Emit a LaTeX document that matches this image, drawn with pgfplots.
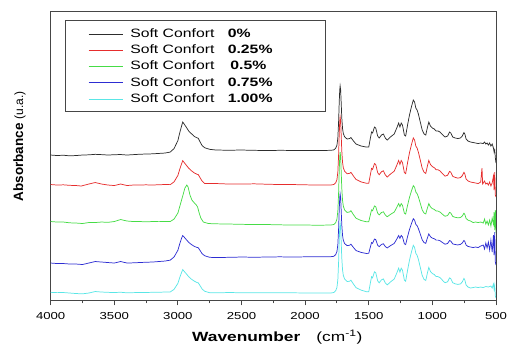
\documentclass[border=0pt]{standalone}
\usepackage{pgfplots}
\pgfplotsset{compat=1.18}
\usepackage{fontspec}
\setmainfont{Liberation Sans}[FakeStretch=1.3]
\newfontfamily\yfont{Liberation Sans}
\definecolor{cK}{RGB}{45,45,45}
\definecolor{cR}{RGB}{230,45,45}
\definecolor{cG}{RGB}{70,220,70}
\definecolor{cB}{RGB}{45,45,210}
\definecolor{cC}{RGB}{90,230,230}
\definecolor{frame}{RGB}{70,70,70}
\newcommand\legtxt[1]{\hspace*{5pt}Soft Confort\hspace{10pt}\textbf{#1}}
\begin{document}
\begin{tikzpicture}
\useasboundingbox (-38pt,-34pt) rectangle (342.25pt,225.55pt);
\begin{axis}[
  scale only axis, width=334pt, height=216.75pt,
  x dir=reverse, xmin=500, xmax=4000, ymin=0.3, ymax=289.3,
  xtick={500,1000,...,4000}, minor x tick num=1, ytick=\empty,
  tick align=outside, major tick length=3.5pt, minor tick length=2pt,
  xtick pos=bottom,
  axis line style={draw=frame, line width=0.7pt},
  xtick style={draw=frame, line width=0.7pt},
  /pgf/number format/assume math mode=true,
  /pgf/number format/set thousands separator={},
  xticklabel style={font=\fontsize{7.6}{9}\selectfont, yshift=-2pt},
  xlabel={\textbf{Wavenumber}\hspace{12pt}(cm\textsuperscript{-1})},
  xlabel style={font=\fontsize{10}{12}\selectfont, at={(axis description cs:0.509,-0.142)}, anchor=base},
  ylabel={\yfont\textbf{Absorbance} {\fontsize{9}{10}\selectfont (u.a.)}},
  ylabel style={font=\yfont\fontsize{10.1}{12}\selectfont, at={(axis description cs:-0.07,0.534)}, anchor=center},
  legend cell align=left,
  legend image code/.code={\draw[#1] (0pt,0pt) -- (26pt,0pt);},
  legend style={at={(axis description cs:0.0838,0.969)}, anchor=north west,
    draw=none, fill=none, inner xsep=0pt, inner ysep=5.2pt,
    row sep=3.2pt, font=\fontsize{9.1}{10}\selectfont,
    nodes={inner sep=0pt, text height=7pt, text depth=2pt}},
  every axis plot/.append style={line width=0.55pt},
]
\draw[draw=frame, line width=0.6pt] (axis description cs:0.032,0.969) rectangle (axis description cs:0.618,0.654);
% Soft Confort 0%
\addplot[cK] table {
4000 146.0
3950 145.5
3900 145.8
3850 145.2
3800 145.5
3750 146.0
3700 146.2
3650 146.7
3600 146.4
3550 146.0
3500 146.3
3450 146.5
3400 146.0
3350 146.4
3300 146.8
3250 147.0
3200 147.2
3150 147.6
3100 148.0
3060 149.0
3030 152.5
3000 160.5
2985 168.5
2970 175.5
2962 179.0
2950 176.8
2935 174.0
2915 170.0
2895 167.5
2870 164.5
2850 163.2
2840 162.8
2825 159.0
2810 155.5
2790 153.3
2750 151.7
2700 151.0
2600 150.8
2500 151.0
2400 150.7
2300 150.5
2200 150.7
2100 150.6
2000 150.5
1900 150.5
1800 150.7
1775 151.1
1760 152.8
1750 155.9
1743 163.0
1737 179.1
1732 199.2
1728 211.2
1725 215.2
1721 211.3
1717 199.3
1712 183.4
1706 172.5
1700 167.6
1690 164.2
1670 162.0
1650 162.5
1640 163.5
1620 160.0
1600 157.0
1560 155.0
1520 154.0
1500 154.0
1490 161.0
1478 169.0
1470 168.0
1455 174.0
1445 173.0
1430 165.0
1418 163.0
1400 166.0
1385 167.0
1370 163.0
1355 161.0
1330 164.0
1300 167.0
1280 173.0
1265 178.0
1255 174.0
1245 178.0
1235 176.0
1220 166.0
1210 165.0
1195 176.0
1180 186.0
1165 194.0
1150 201.0
1140 199.0
1130 193.0
1120 191.0
1110 187.0
1095 179.0
1080 171.0
1065 167.0
1052 166.0
1040 173.0
1028 179.0
1015 175.0
1000 173.0
985 172.0
970 170.0
955 170.0
940 169.0
925 167.0
910 165.0
900 164.0
880 165.0
865 169.0
855 168.0
840 164.0
820 163.0
800 162.5
780 163.0
765 165.0
752 168.5
745 167.0
735 162.0
720 160.0
700 159.0
680 158.5
660 158.0
640 157.5
620 158.0
600 157.5
590 159.0
580 157.0
570 158.0
560 156.0
550 158.0
540 155.0
530 157.0
520 153.0
515 149.0
510 151.0
505 143.0
500 138.0
};
\addlegendentry{\legtxt{0\%}}
% Soft Confort 0.25%
\addplot[cR] table {
4000 116.5
3950 116.0
3900 116.2
3850 115.7
3800 115.5
3760 115.0
3700 117.0
3650 118.5
3600 117.0
3550 116.0
3500 115.5
3450 117.0
3400 115.5
3350 116.0
3300 116.0
3250 116.2
3200 116.0
3150 116.3
3100 116.5
3060 116.4
3030 119.2
3000 125.6
2985 132.0
2970 137.6
2962 140.4
2950 138.4
2935 136.0
2915 132.8
2895 130.4
2870 128.0
2850 126.8
2840 126.4
2825 123.2
2810 120.0
2790 117.6
2750 117.5
2700 117.5
2600 117.0
2500 117.0
2400 117.2
2300 116.8
2200 116.5
2100 116.5
2000 116.2
1900 116.0
1800 116.0
1775 116.5
1760 118.2
1750 121.4
1743 128.9
1737 145.9
1732 167.1
1728 179.9
1725 184.1
1721 179.9
1717 167.2
1712 150.3
1706 138.7
1700 133.4
1690 129.8
1670 127.3
1650 127.7
1640 128.7
1620 124.9
1600 121.6
1560 119.1
1520 117.8
1500 117.7
1490 124.6
1478 132.6
1470 131.6
1455 137.5
1445 136.5
1430 128.4
1418 126.3
1400 129.3
1385 130.2
1370 126.1
1355 124.0
1330 126.9
1300 129.8
1280 135.7
1265 140.6
1255 136.6
1245 140.5
1235 138.4
1220 128.4
1210 127.4
1195 138.3
1180 148.2
1165 156.1
1150 163.1
1140 161.0
1130 155.0
1120 152.9
1110 148.9
1095 140.9
1080 132.8
1065 128.7
1052 127.6
1040 134.5
1028 140.6
1015 136.5
1000 134.4
985 133.3
970 131.3
955 131.2
940 130.1
925 128.0
910 126.0
900 124.9
880 125.8
865 129.7
855 128.8
840 124.7
820 123.6
800 122.9
780 123.4
765 125.3
752 128.7
745 127.2
735 122.1
720 120.1
700 119.0
680 118.5
660 118.0
640 117.5
620 119.0
610 133.0
605 117.0
600 118.0
590 120.0
580 117.0
570 118.0
560 116.0
550 119.0
540 115.0
530 118.0
520 125.0
515 111.0
510 129.0
505 106.0
500 104.0
};
\addlegendentry{\legtxt{0.25\%}}
% Soft Confort 0.5%
\addplot[cG] table {
4000 79.5
3950 79.0
3900 79.0
3850 78.2
3800 78.0
3750 77.5
3700 78.5
3650 78.5
3600 79.0
3550 78.7
3500 79.5
3450 81.5
3400 80.0
3350 79.5
3300 79.5
3250 79.2
3200 79.5
3150 79.4
3100 79.5
3060 79.5
3030 82.0
3000 88.0
2980 97.0
2960 106.0
2945 113.0
2930 116.0
2920 114.0
2905 106.0
2890 101.0
2870 98.0
2855 96.0
2845 94.0
2835 89.0
2820 83.0
2800 79.0
2760 77.5
2700 77.2
2600 77.0
2500 76.7
2400 76.5
2300 76.5
2200 76.2
2100 76.0
2000 76.0
1900 75.8
1800 76.0
1775 76.5
1760 78.4
1750 81.9
1743 89.9
1737 108.0
1732 130.7
1728 144.3
1725 148.9
1721 144.4
1717 130.9
1712 112.9
1706 100.5
1700 95.0
1690 91.1
1670 88.6
1650 89.1
1640 90.3
1620 86.3
1600 82.8
1560 80.5
1520 79.3
1500 79.3
1490 84.8
1478 91.2
1470 90.3
1455 95.1
1445 94.3
1430 87.9
1418 86.2
1400 88.5
1385 89.2
1370 86.0
1355 84.3
1330 86.6
1300 88.9
1280 93.6
1265 97.5
1255 94.3
1245 97.4
1235 95.7
1220 87.8
1210 87.0
1195 95.7
1180 103.6
1165 109.9
1150 115.4
1140 113.8
1130 109.0
1120 107.3
1110 104.1
1095 97.7
1080 91.2
1065 87.9
1052 87.1
1040 92.6
1028 97.4
1015 94.1
1000 92.4
985 91.6
970 90.0
955 89.9
940 89.0
925 87.3
910 85.6
900 84.8
880 85.5
865 88.7
855 87.9
840 84.6
820 83.7
800 83.2
780 83.5
765 85.0
752 87.8
745 86.6
735 82.6
720 80.9
700 80.0
680 78.5
660 79.0
640 78.5
620 79.0
600 78.0
590 82.0
580 77.0
570 80.0
560 76.0
550 81.0
540 75.0
530 83.0
520 77.0
515 89.0
510 71.0
505 91.0
500 68.0
};
\addlegendentry{\legtxt{\hspace{2pt}0.5\%}}
% Soft Confort 0.75%
\addplot[cB] table {
4000 38.0
3950 37.5
3900 37.5
3850 37.0
3800 37.0
3750 36.5
3700 38.0
3650 39.5
3600 39.0
3550 38.5
3500 38.0
3450 39.5
3400 38.0
3350 38.2
3300 38.5
3250 38.8
3200 39.0
3150 39.5
3100 40.0
3060 40.9
3030 44.1
3000 50.8
2985 57.4
2970 63.2
2962 65.5
2950 63.8
2935 61.6
2915 58.7
2895 56.6
2870 54.6
2850 53.6
2840 53.3
2825 50.4
2810 47.4
2790 45.3
2750 43.7
2700 43.5
2600 43.7
2500 44.0
2400 43.8
2300 44.0
2200 44.2
2100 44.0
2000 44.2
1900 44.3
1800 44.3
1775 44.7
1760 46.4
1750 49.5
1743 56.3
1737 72.0
1732 91.6
1728 103.3
1725 107.3
1721 103.4
1717 91.8
1712 76.2
1706 65.6
1700 60.8
1690 57.5
1670 55.4
1650 55.8
1640 56.8
1620 53.5
1600 50.5
1560 48.6
1520 47.6
1500 47.7
1490 52.7
1478 58.5
1470 57.7
1455 62.0
1445 61.4
1430 55.8
1418 54.4
1400 56.6
1385 57.3
1370 54.5
1355 53.1
1330 55.3
1300 57.6
1280 61.9
1265 65.5
1255 62.7
1245 65.6
1235 64.2
1220 57.2
1210 56.5
1195 64.4
1180 71.5
1165 77.2
1150 82.3
1140 80.9
1130 76.7
1120 75.3
1110 72.5
1095 66.9
1080 61.2
1065 58.4
1052 57.7
1040 62.7
1028 67.1
1015 64.3
1000 62.9
985 62.3
970 60.9
955 60.9
940 60.3
925 58.9
910 57.6
900 56.8
880 57.6
865 60.5
855 59.9
840 57.1
820 56.5
800 56.1
780 56.6
765 58.0
752 60.6
745 59.5
735 56.0
720 54.6
700 54.0
680 53.5
660 54.0
640 53.5
620 55.0
600 56.0
590 52.0
580 58.0
570 53.0
560 59.0
550 51.0
540 61.0
530 49.0
520 66.0
515 46.0
510 69.0
505 39.0
500 36.0
};
\addlegendentry{\legtxt{0.75\%}}
% Soft Confort 1.00%
\addplot[cC] table {
4000 8.7
3950 8.4
3900 8.5
3850 8.0
3800 7.5
3750 7.2
3700 8.0
3650 9.5
3600 9.0
3550 8.7
3500 8.5
3450 8.8
3400 8.2
3350 8.4
3300 8.5
3250 8.6
3200 8.7
3150 8.8
3100 9.0
3060 9.1
3030 11.7
3000 17.7
2985 23.7
2970 28.9
2962 31.5
2950 29.6
2935 27.4
2915 24.3
2895 22.0
2870 19.8
2850 18.5
2840 18.2
2825 15.2
2810 12.1
2790 9.8
2750 8.3
2700 8.2
2600 8.5
2500 8.3
2400 8.4
2300 8.2
2200 8.3
2100 8.2
2000 8.1
1900 8.0
1800 8.0
1775 8.5
1760 10.3
1750 13.6
1743 21.2
1737 38.7
1732 60.5
1728 73.6
1725 78.0
1721 73.6
1717 60.6
1712 43.2
1706 31.2
1700 25.7
1690 22.0
1670 19.5
1650 19.8
1640 20.8
1620 16.9
1600 13.4
1560 10.9
1520 9.4
1500 9.3
1490 16.2
1478 24.3
1470 23.2
1455 29.2
1445 28.3
1430 20.2
1418 18.2
1400 21.2
1385 22.1
1370 18.1
1355 16.1
1330 19.0
1300 22.0
1280 27.9
1265 32.9
1255 28.9
1245 32.9
1235 30.8
1220 20.9
1210 19.8
1195 30.8
1180 40.8
1165 48.8
1150 55.7
1140 53.7
1130 47.7
1120 45.7
1110 41.7
1095 33.7
1080 25.6
1065 21.6
1052 20.6
1040 27.5
1028 33.6
1015 29.5
1000 27.5
985 26.5
970 24.5
955 24.4
940 23.4
925 21.4
910 19.3
900 18.3
880 19.3
865 23.2
855 22.3
840 18.3
820 17.2
800 16.6
780 17.1
765 19.1
752 22.6
745 21.1
735 16.0
720 14.0
700 13.0
680 13.5
660 14.0
640 13.5
620 14.0
600 13.5
580 14.5
560 14.0
540 15.0
530 13.0
520 17.0
515 12.0
510 16.0
505 5.0
500 3.0
};
\addlegendentry{\legtxt{1.00\%}}
\end{axis}
\end{tikzpicture}
\end{document}
